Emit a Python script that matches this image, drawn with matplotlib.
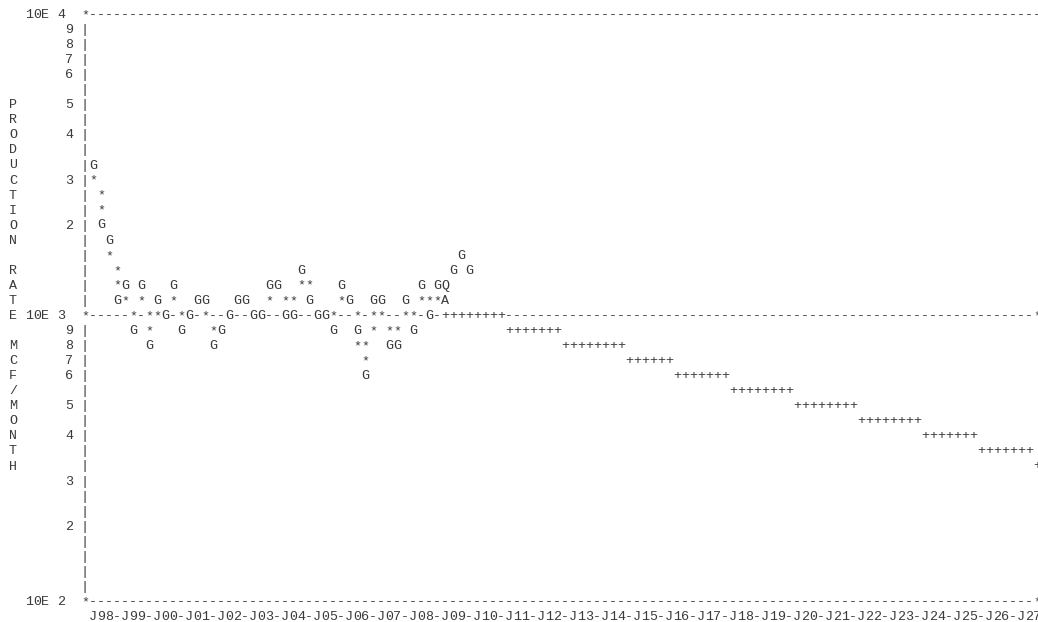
import numpy as np
import matplotlib
matplotlib.use("Agg")
import matplotlib.pyplot as plt

# ---------------- data ----------------
# quarterly gas points, plotted with 'G' (MCF/month)
g_quarters = ['1998Q1', '1998Q2', '1998Q3', '1998Q4', '1999Q1', '1999Q2', '1999Q3', '1999Q4',
              '2000Q1', '2000Q2', '2000Q3', '2000Q4', '2001Q1', '2001Q2', '2001Q3', '2001Q4',
              '2002Q1', '2002Q2', '2002Q3', '2002Q4', '2003Q1', '2003Q2', '2003Q3', '2003Q4',
              '2004Q1', '2004Q2', '2004Q3', '2004Q4', '2005Q1', '2005Q2', '2005Q3', '2005Q4',
              '2006Q1', '2006Q2', '2006Q3', '2006Q4', '2007Q1', '2007Q2', '2007Q3', '2007Q4',
              '2008Q1', '2008Q2', '2008Q3', '2008Q4', '2009Q2', '2009Q3', '2009Q4']
g_rates = [3160, 2000, 1780, 1120, 1260, 885, 1260, 785,
           1120, 1000, 1260, 885, 1000, 1120, 1120, 785,
           885, 1000, 1120, 1120, 1000, 1000, 1260, 1260,
           1000, 1000, 1410, 1120, 1000, 1000, 885, 1260,
           1120, 885, 615, 1120, 1120, 785, 785, 1120,
           885, 1260, 1000, 1260, 1410, 1580, 1410]

# monthly points, plotted with '*'
s_quarters = ['1998Q1', '1998Q2', '1998Q2', '1998Q3', '1998Q4', '1998Q4', '1999Q1', '1999Q2',
              '1999Q3', '1999Q4', '1999Q4', '2000Q1', '2000Q3', '2000Q4', '2001Q3', '2001Q4',
              '2003Q3', '2004Q1', '2004Q2', '2004Q3', '2004Q4', '2005Q3', '2005Q4', '2006Q2',
              '2006Q2', '2006Q3', '2006Q3', '2006Q4', '2006Q4', '2007Q1', '2007Q2', '2007Q3',
              '2007Q4', '2008Q1', '2008Q2', '2008Q3', '2008Q4']
s_rates = [2820, 2510, 2240, 1580, 1410, 1260, 1120, 1000,
           1120, 1000, 885, 1000, 1120, 1000, 1000, 885,
           1120, 1120, 1120, 1260, 1260, 1000, 1120, 1000,
           785, 785, 695, 1000, 885, 1000, 885, 885,
           1000, 1000, 1120, 1120, 1120]

# other symbols in the last historical quarter
o_quarters = ['2009Q1', '2009Q1']
o_rates = [1260, 1120]
o_symbols = ['Q', 'A']

# forecast ('+'), one point per quarter from 2009Q1 to 2027Q3
fc_start_year = 2009
fc_levels = [1000, 885, 785, 695, 615, 545, 484, 429, 380, 337, 298]
fc_counts = [8, 7, 8, 6, 7, 8, 8, 8, 7, 7, 1]

# axis text
y_title = "PRODUCTION RATE MCF/MONTH"
decade_labels = ["10E 4", "10E 3", "10E 2"]
minor_labels = ["9", "8", "7", "6", "5", "4", "3", "2"]
x_years = list(range(1998, 2028))

# ---------------- layout ----------------
W, H, DPI = 1038, 622, 100
COL_W, ROW_H = 8.0, 15.05
COL0_X, ROW0_Y = 85.0, 15.0
NCOL = 120            # columns 0..119 of the plot frame
BOTTOM_ROW = 39       # row of the 10E 2 line
MID_ROW = 20          # row of the 10E 3 line
decade_rows = [0, MID_ROW, BOTTOM_ROW]
minor_rows_upper = [1, 2, 3, 4, 6, 8, 11, 14]
minor_rows_lower = [21, 22, 23, 24, 26, 28, 31, 34]
TITLE_COL, TITLE_ROW0 = -9, 6
DEC_COL0, TICK_COL = -7, -2

FONT = dict(family="Liberation Mono", size=9.6, color="#3a3a3a")

fig = plt.figure(figsize=(W / DPI, H / DPI), dpi=DPI)
fig.patch.set_facecolor("white")

left = (COL0_X - 0.5 * COL_W) / W
right = (COL0_X + (NCOL - 0.5) * COL_W) / W
top = 1 - (ROW0_Y - 0.5 * ROW_H) / H
bottom = 1 - (ROW0_Y + (BOTTOM_ROW + 0.5) * ROW_H) / H
rect = [left, bottom, right - left, top - bottom]

# character grid axes (for the ASCII frame)
gax = fig.add_axes(rect)
gax.set_xlim(-0.5, NCOL - 0.5)
gax.set_ylim(BOTTOM_ROW + 0.5, -0.5)
gax.axis("off")

# data axes: time in years, rate on a log scale (20 rows per upper decade, 19 per lower)
def fwd(v):
    lv = np.log10(np.maximum(np.asarray(v, dtype=float), 1e-12)) - 3.0
    return np.where(lv >= 0, 20.0 * lv, 19.0 * lv)

def inv(f):
    f = np.asarray(f, dtype=float)
    return np.where(f >= 0, 10 ** (3.0 + f / 20.0), 10 ** (3.0 + f / 19.0))

dax = fig.add_axes(rect)
dax.patch.set_alpha(0)
dax.set_yscale("function", functions=(fwd, inv))
dax.set_ylim(float(inv(-19.5)), float(inv(20.5)))
dax.set_xlim(1998 - 1.5 / 4, 1998 + (NCOL - 1.5) / 4)
dax.axis("off")


def qyear(q):
    return int(q[:4]) + (int(q[5]) - 1) / 4.0


def put(col, row, s):
    for i, ch in enumerate(s):
        if ch != " ":
            gax.text(col + i, row, ch, ha="center", va="center", clip_on=False, **FONT)


occupied = set()


def mark(x, v, ch):
    dax.text(x, v, ch, ha="center", va="center", clip_on=False, **FONT)
    c, r = gax.transData.inverted().transform(dax.transData.transform((x, v)))
    occupied.add((int(round(c)), int(round(r))))


for q, v in zip(g_quarters, g_rates):
    mark(qyear(q), v, "G")
for q, v in zip(s_quarters, s_rates):
    mark(qyear(q), v, "*")
for q, v, ch in zip(o_quarters, o_rates, o_symbols):
    mark(qyear(q), v, ch)

fc_rates = []
for lvl, n in zip(fc_levels, fc_counts):
    fc_rates += [lvl] * n
fc_x = [fc_start_year + i / 4.0 for i in range(len(fc_rates))]
for x, v in zip(fc_x, fc_rates):
    mark(x, v, "+")

# frame
put(0, 0, "*")
for c in range(1, NCOL):
    put(c, 0, "-")
for r in (MID_ROW, BOTTOM_ROW):
    put(0, r, "*")
    for c in range(1, NCOL - 1):
        if (c, r) not in occupied:
            put(c, r, "-")
    put(NCOL - 1, r, "*")
for r in range(1, BOTTOM_ROW):
    if r != MID_ROW and (0, r) not in occupied:
        put(0, r, "|")

# y labels
for lab, r in zip(decade_labels, decade_rows):
    put(DEC_COL0, r, lab)
for lab, r in zip(minor_labels, minor_rows_upper):
    put(TICK_COL, r, lab)
for lab, r in zip(minor_labels, minor_rows_lower):
    put(TICK_COL, r, lab)
for i, ch in enumerate(y_title):
    put(TITLE_COL, TITLE_ROW0 + i, ch)

# x labels
xl = "-".join("J%02d" % (y % 100) for y in x_years)
put(1, BOTTOM_ROW + 1, xl)

fig.savefig("out.png", dpi=DPI, facecolor="white")
